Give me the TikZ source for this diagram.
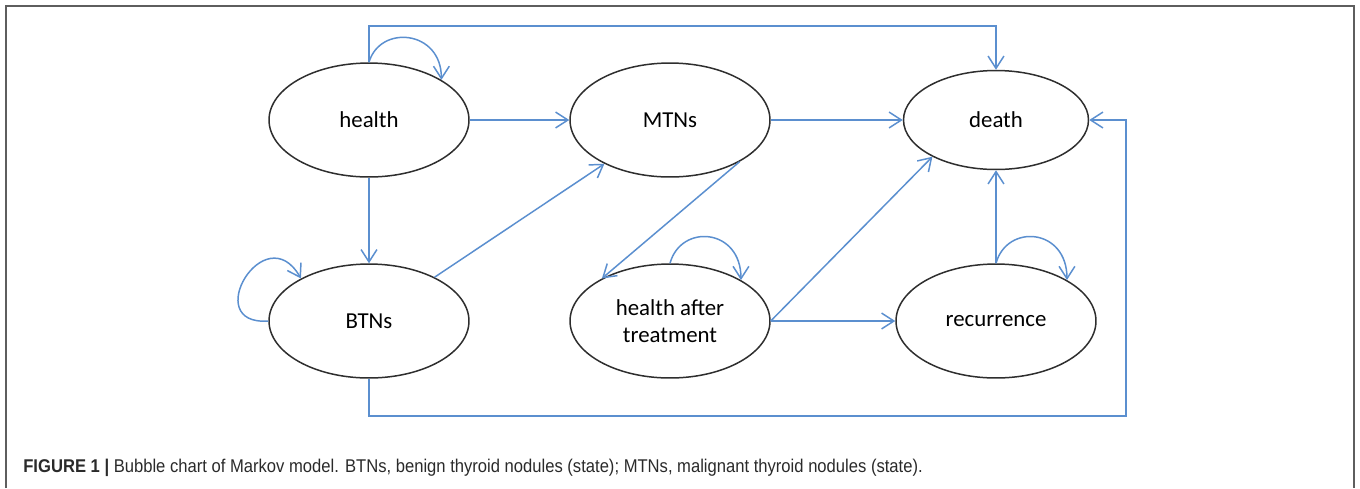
\documentclass[tikz,border=0pt]{standalone}
\usepackage{fontspec}
\newfontfamily\nodefont{Carlito}
\newfontfamily\capfont[FakeStretch=0.9]{Liberation Sans}
\usetikzlibrary{arrows.meta,shapes.geometric,calc}
\definecolor{cLink}{HTML}{5B8FCF}
\definecolor{cRing}{HTML}{2E2E2E}
\definecolor{cFrame}{HTML}{5E5E5E}
\definecolor{cCap}{HTML}{2A2A2A}
\tikzset{
  state/.style={ellipse,draw=cRing,line width=0.85pt,fill=white,inner sep=0pt,
      align=center,font=\nodefont\fontsize{13}{15.4}\selectfont,
      minimum width=4cm,minimum height=2.28cm},
  smallstate/.style={state,minimum width=3.7cm,minimum height=1.98cm},
  link/.style={-{Straight Barb[length=7pt,width=9pt]},draw=cLink,line width=0.85pt},
  frameline/.style={draw=cFrame,line width=1.1pt},
  caption/.style={font=\capfont\fontsize{10.5}{12}\selectfont,text=cCap,
      inner sep=0pt,anchor=west},
}

\begin{document}
\begin{tikzpicture}[x=0.02cm,y=-0.02cm]
  \useasboundingbox (0,0) rectangle (1360,488);
  \draw[frameline] (6,488) -- (6,6) -- (1354,6) -- (1354,488);

  % states
  \node[state] (health) at (369,120) {health};
  \node[state] (mtn) at (670,120) {MTNs};
  \node[smallstate] (death) at (996,120) {death};
  \node[state] (btn) at (369,321) {BTNs};
  \node[state] (hat) at (670,321) {health after\\treatment};
  \node[state] (recur) at (996,321) {recurrence};
  \coordinate (rcorner) at (1126,416);

  % transitions
  \draw[link] (health.north) -- (health.north |- 0,26) -| (death.north);
  \draw[link] (health.north) .. controls +(11,-38) and +(0,-50) .. (health.29);
  \draw[link] (health) -- (mtn);
  \draw[link] (health) -- (btn);
  \draw[link] (btn.west) .. controls +(-69,5) and +(-36,-63) .. (btn.148);
  \draw[link] (btn) -- (mtn);
  \draw[link] (btn.south) |- (rcorner) |- (death.east);
  \draw[link] (mtn) -- (death);
  \draw[link] (mtn.-31) -- (hat.148);
  \draw[link] (hat.north) .. controls +(11,-40) and +(0,-52) .. (hat.30);
  \draw[link] (hat.east) -- (death.210);
  \draw[link] (hat) -- (recur);
  \draw[link] (recur) -- (death);
  \draw[link] (recur.north) .. controls +(11,-40) and +(0,-52) .. (recur.30);

  \node[caption] (cap) at (23,468) {\textbf{FIGURE 1 |} Bubble chart of Markov model. BTNs, benign thyroid nodules (state); MTNs, malignant thyroid nodules (state).};
\end{tikzpicture}
\end{document}
